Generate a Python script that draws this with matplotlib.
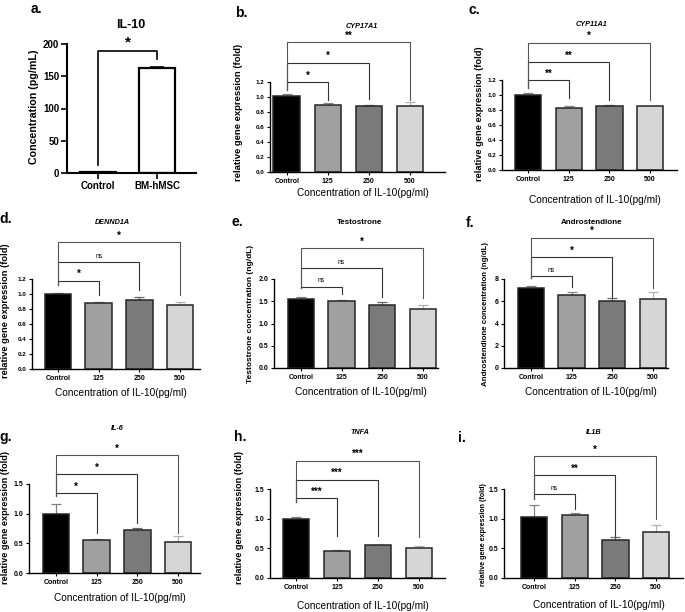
import matplotlib.pyplot as plt

plt.rcParams['font.family'] = ['Liberation Sans', 'DejaVu Sans']

# ---- data ----
doses = ['Control', '125', '250', '500']
x_title = 'Concentration of IL-10(pg/ml)'

# a. IL-10 secretion
a_groups = ['Control', 'BM-hMSC']
a_vals = [0.8, 163]
a_err = [0, 2]

# b. CYP17A1
b_vals = [1.02, 0.90, 0.88, 0.88]
b_err = [0.025, 0.015, 0.01, 0.05]
b_sig = ['*', '*', '**']
b_sig_y = [1.20, 1.46, 1.73]
b_leg = [0.96, 0.97, 0.96]

# c. CYP11A1
c_vals = [1.00, 0.83, 0.86, 0.85]
c_err = [0.03, 0.02, 0.01, 0.01]
c_sig = ['**', '**', '*']
c_sig_y = [1.20, 1.44, 1.70]
c_leg = [0.96, 0.93, 0.93]

# d. DENND1A
d_vals = [1.00, 0.875, 0.92, 0.86]
d_err = [0.02, 0.015, 0.04, 0.03]
d_sig = ['*', 'ns', '*']
d_sig_y = [1.18, 1.43, 1.69]
d_leg = [0.99, 1.06, 0.99]

# e. Testostrone
e_vals = [1.55, 1.51, 1.42, 1.32]
e_err = [0.04, 0.01, 0.06, 0.10]
e_sig = ['ns', 'ns', '*']
e_sig_y = [1.83, 2.24, 2.69]
e_leg = [1.66, 1.60, 1.57]

# f. Androstendione
f_vals = [7.16, 6.57, 6.03, 6.24]
f_err = [0.18, 0.23, 0.24, 0.56]
f_sig = ['ns', '*', '*']
f_sig_y = [8.27, 9.97, 11.73]
f_leg = [7.3, 6.4, 7.16]

# g. IL-6
g_vals = [1.00, 0.55, 0.73, 0.525]
g_err = [0.16, 0.03, 0.03, 0.095]
g_sig = ['*', '*', '*']
g_sig_y = [1.34, 1.67, 1.99]
g_leg = [0.67, 0.84, 0.67]

# h. TNFA
h_vals = [1.00, 0.46, 0.55, 0.51]
h_err = [0.035, 0.01, 0.01, 0.025]
h_sig = ['***', '***', '***']
h_sig_y = [1.34, 1.66, 1.98]
h_leg = [0.71, 0.70, 0.69]

# i. IL1B
i_vals = [1.02, 1.07, 0.64, 0.78]
i_err = [0.21, 0.02, 0.05, 0.11]
i_sig = ['ns', '**', '*']
i_sig_y = [1.41, 1.73, 2.05]
i_leg = [1.17, 0.70, 0.99]

# ---- styling ----
bar_colors = ['#000000', '#a0a0a0', '#7a7a7a', '#d6d6d6']
err_colors = ['#808080', '#8a8a8a', '#666666', '#b0b0b0']
W, H = 685, 612

fig = plt.figure(figsize=(6.85, 6.12), dpi=100)


def make_ax(left, right, bottom, top):
    return fig.add_axes([left / W, 1 - bottom / H, (right - left) / W, (bottom - top) / H])


def ftext(x, y, s, **kw):
    fig.text(x / W, 1 - y / H, s, ha='center', va='center', **kw)


def style_ax(ax, lw, tl):
    for s in ['top', 'right']:
        ax.spines[s].set_visible(False)
    for s in ['left', 'bottom']:
        ax.spines[s].set_linewidth(lw)
    ax.tick_params(direction='out', length=tl, width=lw * 0.8, pad=1.5)


# panel a
ax = make_ax(67, 196, 173, 44)
ax.bar(range(2), a_vals, width=0.62, color='white', edgecolor='black', linewidth=1.6, zorder=2)
ax.errorbar(range(2), a_vals, yerr=[[0, 0], a_err], fmt='none', ecolor='black', elinewidth=1.2,
            capsize=5, capthick=1.2, zorder=3)
ax.set_xlim(-0.53, 1.66)
ax.set_ylim(0, 200)
ax.set_yticks(range(0, 201, 50))
ax.set_xticks(range(2))
ax.set_xticklabels(a_groups)
style_ax(ax, 1.5, 4)
for t in ax.get_xticklabels() + ax.get_yticklabels():
    t.set_fontsize(7)
    t.set_fontweight('bold')
ax.plot([0, 0, 1, 1], [13, 189, 189, 176], color='black', lw=1.2, clip_on=False)
ax.annotate('*', (0.5, 189), xytext=(0, 1), textcoords='offset points', ha='center', va='bottom',
            fontsize=11, fontweight='bold', annotation_clip=False)
ftext(131, 25, 'IL-10', fontsize=9, fontweight='bold')
ftext(34, 107, 'Concentration (pg/mL)', rotation=90, fontsize=7.7, fontweight='bold')
ftext(36, 9, 'a.', fontsize=10, fontweight='bold')

# panels b-i
panels = [
    # letter, vals, err, sig, sig_y, leg, left_end, box(l,r,b,t), xlim, ymax, ystep, fmt,
    # title, italic, title xy, ylabel, ylabel size, ylabel xy, letter xy, xlabel y, ytick size
    ('b', b_vals, b_err, b_sig, b_sig_y, b_leg, 1.09, (270, 445, 172, 82), (-0.41, 3.85), 1.2, 0.2, '%.1f',
     'CYP17A1', True, (362, 27), 'relative gene expression (fold)', 6.8, (239, 112), (241, 13), 193, 4.5),
    ('c', c_vals, c_err, c_sig, c_sig_y, c_leg, 1.10, (502, 677, 170, 80), (-0.64, 3.66), 1.2, 0.2, '%.1f',
     'CYP11A1', True, (592, 24), 'relative gene expression (fold)', 6.7, (479, 114), (474, 10), 200, 4.5),
    ('d', d_vals, d_err, d_sig, d_sig_y, d_leg, 1.12, (32, 200, 369, 279), (-0.64, 3.49), 1.2, 0.2, '%.1f',
     'DENND1A', True, (112, 223), 'relative gene expression (fold)', 6.7, (6, 311), (6, 219), 393, 4.5),
    ('e', e_vals, e_err, e_sig, e_sig_y, e_leg, 1.80, (274, 438, 368, 279), (-0.66, 3.37), 2.0, 0.5, '%.1f',
     'Testostrone', False, (360, 223), 'Testostrone concentration (ng/dL)', 6.0, (251, 314), (237, 222), 392, 5),
    ('f', f_vals, f_err, f_sig, f_sig_y, f_leg, 8.06, (504, 668, 368, 279), (-0.66, 3.37), 8, 2, '%d',
     'Androstendione', False, (592, 223), 'Androstendione concentration (ng/dL)', 5.7, (486, 314), (470, 223), 392, 5),
    ('g', g_vals, g_err, g_sig, g_sig_y, g_leg, 1.29, (29, 200, 573, 484), (-0.66, 3.54), 1.5, 0.5, '%.1f',
     'IL-6', True, (117, 429), 'relative gene expression (fold)', 6.6, (6, 518), (6, 437), 598, 5),
    ('h', h_vals, h_err, h_sig, h_sig_y, h_leg, 1.28, (270, 445, 578, 489), (-0.63, 3.63), 1.5, 0.5, '%.1f',
     'TNFA', True, (360, 433), 'relative gene expression (fold)', 6.6, (240, 518), (240, 437), 606, 5),
    ('i', i_vals, i_err, i_sig, i_sig_y, i_leg, 1.33, (504, 683, 578, 489), (-0.74, 3.66), 1.5, 0.5, '%.1f',
     'IL1B', True, (594, 433), 'relative gene expression (fold)', 5.1, (483, 535), (462, 438), 605, 5),
]

for (letter, vals, err, sig, sig_y, leg, left_end, box, xlim, ymax, ystep, fmt,
     title, italic, txy, ylab, ysz, yxy, lxy, xly, ytsz) in panels:
    ax = make_ax(*box)
    x = range(len(doses))
    ax.bar(x, vals, width=0.65, color=bar_colors, edgecolor='#262626', linewidth=1.1, zorder=2)
    for k in x:
        ax.errorbar(k, vals[k], yerr=[[0], [err[k]]], fmt='none', ecolor=err_colors[k],
                    elinewidth=0.9, capsize=3.5, capthick=0.9, zorder=1)
    ax.set_xlim(*xlim)
    ax.set_ylim(0, ymax)
    n = int(round(ymax / ystep))
    ticks = [ystep * t for t in range(n + 1)]
    ax.set_yticks(ticks)
    ax.set_yticklabels([fmt % t for t in ticks])
    ax.set_xticks(list(x))
    ax.set_xticklabels(doses)
    style_ax(ax, 1.0, 2.5)
    for t in ax.get_xticklabels():
        t.set_fontsize(5)
        t.set_fontweight('bold')
    for t in ax.get_yticklabels():
        t.set_fontsize(ytsz)
        t.set_fontweight('bold')
    # significance brackets
    for j in range(3):
        col = '#555555' if j == 2 else '#333333'
        ax.plot([0, 0, j + 1, j + 1], [left_end, sig_y[j], sig_y[j], leg[j]], color=col,
                lw=0.8, clip_on=False)
        if sig[j] == 'ns':
            ax.annotate('ns', ((j + 1) / 2, sig_y[j]), xytext=(0, 1.5), textcoords='offset points',
                        ha='center', va='bottom', fontsize=4.8, annotation_clip=False)
        else:
            ax.annotate(sig[j], ((j + 1) / 2, sig_y[j]), xytext=(0, 1), textcoords='offset points',
                        ha='center', va='bottom', fontsize=7, fontweight='bold',
                        annotation_clip=False)
    ftext(txy[0], txy[1], title, fontsize=5.2 if italic else 5.8, fontweight='bold',
          style='italic' if italic else 'normal')
    ftext(yxy[0], yxy[1], ylab, rotation=90, fontsize=ysz, fontweight='bold')
    ftext((box[0] + box[1]) / 2 + 5, xly, x_title, fontsize=7.3)
    ftext(lxy[0], lxy[1], letter + '.', fontsize=10, fontweight='bold')

fig.savefig('out.png', dpi=100)
